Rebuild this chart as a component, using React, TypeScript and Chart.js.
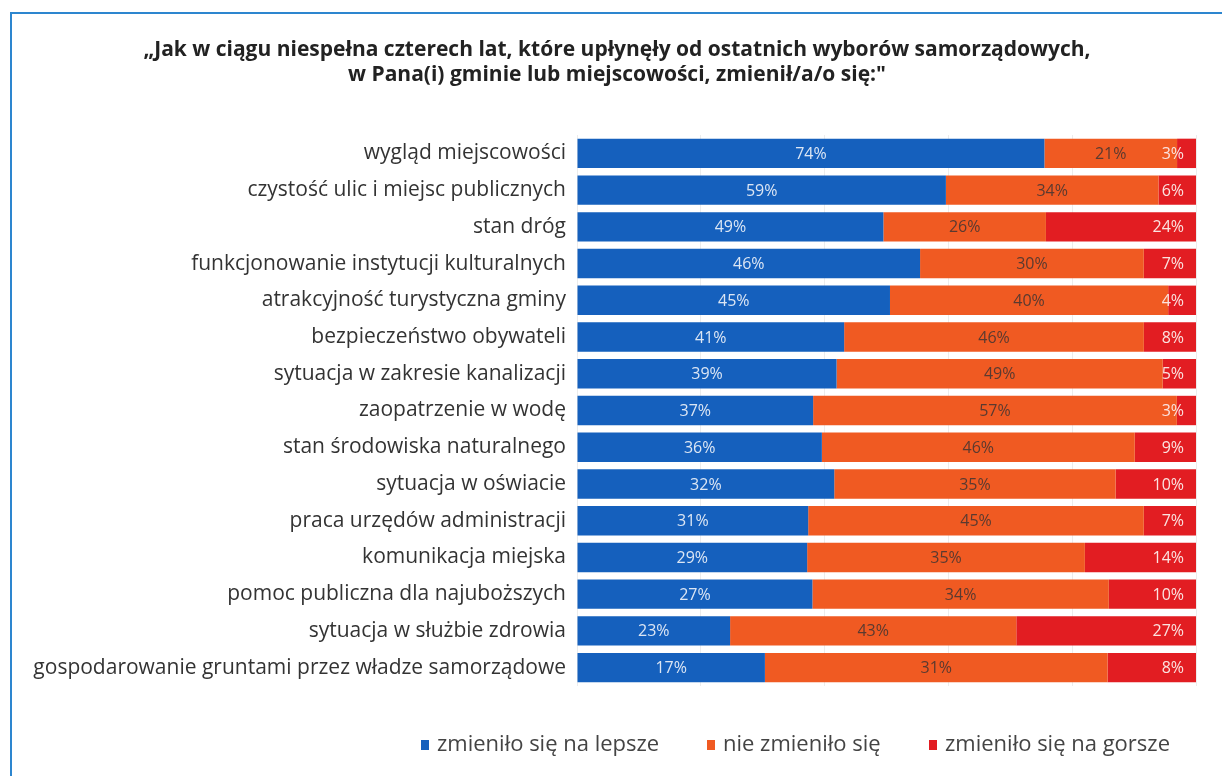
import React, { useEffect, useRef } from "react";
import { Chart, registerables } from "chart.js";

Chart.register(...registerables);

const titleLines = [
  "„Jak w ciągu niespełna czterech lat, które upłynęły od ostatnich wyborów samorządowych,",
  "w Pana(i) gminie lub miejscowości, zmienił/a/o się:\"",
];

const categories = [
  "wygląd miejscowości",
  "czystość ulic i miejsc publicznych",
  "stan dróg",
  "funkcjonowanie instytucji kulturalnych",
  "atrakcyjność turystyczna gminy",
  "bezpieczeństwo obywateli",
  "sytuacja w zakresie kanalizacji",
  "zaopatrzenie w wodę",
  "stan środowiska naturalnego",
  "sytuacja w oświacie",
  "praca urzędów administracji",
  "komunikacja miejska",
  "pomoc publiczna dla najuboższych",
  "sytuacja w służbie zdrowia",
  "gospodarowanie gruntami przez władze samorządowe",
];

const better = [74, 59, 49, 46, 45, 41, 39, 37, 36, 32, 31, 29, 27, 23, 17];
const same = [21, 34, 26, 30, 40, 46, 49, 57, 46, 35, 45, 35, 34, 43, 31];
const worse = [3, 6, 24, 7, 4, 8, 5, 3, 9, 10, 7, 14, 10, 27, 8];

const seriesNames = ["zmieniło się na lepsze", "nie zmieniło się", "zmieniło się na gorsze"];
const seriesColors = ["#1560bd", "#f05a22", "#e21d22"];
const labelColors = ["#dce6f4", "#5a3a30", "#fbe3e0"];

const FONT = "'Open Sans', 'Noto Sans', sans-serif";

const totals = categories.map((_, i) => better[i] + same[i] + worse[i]);
const norm = (arr: number[]) => arr.map((v, i) => (v / totals[i]) * 100);
const rawSeries = [better, same, worse];

const titlePlugin = {
  id: "customTitle",
  afterDraw(chart: any) {
    const ctx = chart.ctx;
    ctx.save();
    ctx.font = `bold 21px ${FONT}`;
    ctx.fillStyle = "#222222";
    ctx.textAlign = "center";
    ctx.textBaseline = "middle";
    titleLines.forEach((line, i) => {
      ctx.fillText(line, 617, 50 + i * 25);
    });
    ctx.restore();
  },
};

const labelsPlugin = {
  id: "segLabels",
  afterDatasetsDraw(chart: any) {
    const ctx = chart.ctx;
    ctx.save();
    ctx.font = `16px ${FONT}`;
    ctx.textBaseline = "middle";
    chart.data.datasets.forEach((ds: any, di: number) => {
      const meta = chart.getDatasetMeta(di);
      meta.data.forEach((bar: any, i: number) => {
        const raw = rawSeries[di][i];
        const txt = raw + "%";
        ctx.fillStyle = labelColors[di];
        if (di === 2) {
          ctx.textAlign = "right";
          ctx.fillText(txt, chart.chartArea.right - 12, bar.y + 1);
        } else {
          ctx.textAlign = "center";
          ctx.fillText(txt, (bar.base + bar.x) / 2, bar.y + 1);
        }
      });
    });
    ctx.restore();
  },
};

const legendPlugin = {
  id: "customLegend",
  afterDraw(chart: any) {
    const ctx = chart.ctx;
    ctx.save();
    ctx.font = `22px ${FONT}`;
    ctx.textBaseline = "middle";
    ctx.textAlign = "left";
    const starts = [421, 707, 929];
    const y = 745;
    seriesNames.forEach((name, i) => {
      ctx.fillStyle = seriesColors[i];
      ctx.fillRect(starts[i], y - 5, 8, 10);
      ctx.fillStyle = "#444444";
      ctx.fillText(name, starts[i] + 16, y);
    });
    ctx.restore();
  },
};

export default function App() {
  const ref = useRef<HTMLCanvasElement | null>(null);

  useEffect(() => {
    if (!ref.current) return;
    const chart = new Chart(ref.current, {
      type: "bar",
      data: {
        labels: categories,
        datasets: rawSeries.map((arr, i) => ({
          label: seriesNames[i],
          data: norm(arr),
          backgroundColor: seriesColors[i],
          borderWidth: 0,
          categoryPercentage: 1,
          barPercentage: 0.8,
        })),
      },
      options: {
        indexAxis: "y",
        animation: false,
        responsive: false,
        maintainAspectRatio: false,
        layout: { padding: { left: 0, right: 26, top: 135, bottom: 90 } },
        plugins: {
          legend: { display: false },
          tooltip: { enabled: false },
          title: { display: false },
        },
        scales: {
          x: {
            stacked: true,
            min: 0,
            max: 100,
            ticks: { display: false, stepSize: 20 },
            grid: { color: "#ececec", drawTicks: false },
            border: { display: false },
          },
          y: {
            stacked: true,
            grid: { display: false, drawTicks: false },
            border: { display: false },
            ticks: {
              color: "#333333",
              font: { family: FONT, size: 21 },
              padding: 11,
            },
            afterFit(scale: any) {
              scale.width = 577;
            },
          },
        },
      },
      plugins: [titlePlugin, labelsPlugin, legendPlugin],
    });
    return () => chart.destroy();
  }, []);

  return (
    <div
      style={{
        position: "absolute",
        left: 0,
        top: 0,
        width: 1222,
        height: 776,
        overflow: "hidden",
        background: "#ffffff",
      }}
    >
      <div
        style={{
          position: "absolute",
          left: 10,
          top: 12,
          width: 1300,
          height: 900,
          border: "2px solid #2d86cf",
          boxSizing: "border-box",
        }}
      />
      <canvas ref={ref} width={1222} height={776} style={{ position: "absolute", left: 0, top: 0 }} />
    </div>
  );
}
